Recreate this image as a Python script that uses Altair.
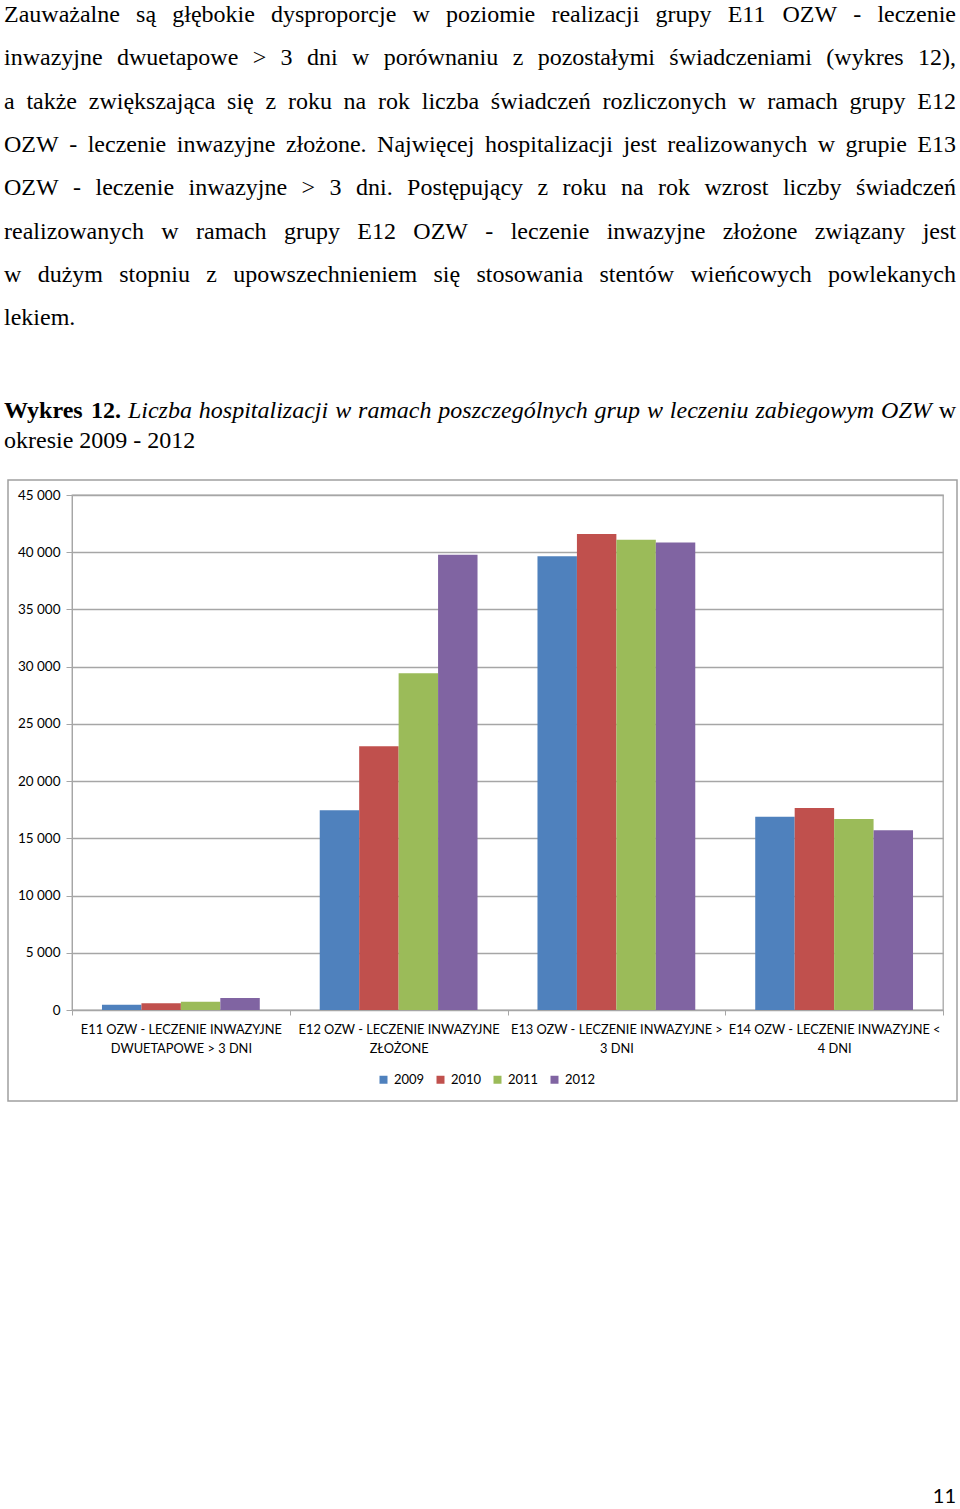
import altair as alt
import pandas as pd

# ---------------- data ----------------
categories = [
    "E11 OZW - LECZENIE INWAZYJNE\nDWUETAPOWE > 3 DNI",
    "E12 OZW - LECZENIE INWAZYJNE\nZŁOŻONE",
    "E13 OZW - LECZENIE INWAZYJNE >\n3 DNI",
    "E14 OZW - LECZENIE INWAZYJNE <\n4 DNI",
]
years = ["2009", "2010", "2011", "2012"]
v2009 = [450, 17450, 39650, 16880]
v2010 = [600, 23050, 41600, 17650]
v2011 = [720, 29430, 41100, 16690]
v2012 = [1050, 39780, 40850, 15700]
y_ticks = [0, 5000, 10000, 15000, 20000, 25000, 30000, 35000, 40000, 45000]
colors = ["#4F81BD", "#C0504D", "#9BBB59", "#8064A2"]

body_lines = [
    "Zauważalne są głębokie dysproporcje w poziomie realizacji grupy E11 OZW - leczenie",
    "inwazyjne dwuetapowe > 3 dni w porównaniu z pozostałymi świadczeniami (wykres 12),",
    "a także zwiększająca się z roku na rok liczba świadczeń rozliczonych w ramach grupy E12",
    "OZW - leczenie inwazyjne złożone. Najwięcej hospitalizacji jest realizowanych w grupie E13",
    "OZW - leczenie inwazyjne > 3 dni. Postępujący z roku na rok wzrost liczby świadczeń",
    "realizowanych w ramach grupy E12 OZW - leczenie inwazyjne złożone związany jest",
    "w dużym stopniu z upowszechnieniem się stosowania stentów wieńcowych powlekanych",
    "lekiem.",
]
caption_bold = "Wykres 12."
caption_italic = "Liczba hospitalizacji w ramach poszczególnych grup w leczeniu zabiegowym OZW"
caption_tail = "w"
caption_line2 = "okresie 2009 - 2012"
page_number = "11"

# ---------------- layout ----------------
PL, PT, PW, PH = 72, 495, 871, 515
TOTAL_W, TOTAL_H = 960, 1509
SERIF = "Liberation Serif, Times New Roman, serif"

ROMAN = dict(zip("abcdefghijklmnopqrstuvwxyz",
                 [444, 500, 444, 500, 444, 333, 500, 500, 278, 278, 500, 278, 778,
                  500, 500, 500, 500, 333, 389, 278, 500, 500, 722, 500, 500, 444]))
ROMAN.update(dict(zip("ABCDEFGHIJKLMNOPQRSTUVWXYZ",
                      [722, 667, 667, 722, 611, 556, 722, 722, 333, 389, 722, 611, 889,
                       722, 722, 556, 722, 667, 556, 611, 722, 722, 944, 722, 722, 611])))
ROMAN.update({d: 500 for d in "0123456789"})
ROMAN.update({".": 250, ",": 250, "-": 333, "(": 333, ")": 333, ">": 564, " ": 250,
              "ą": 444, "ę": 444, "ł": 278, "ż": 444, "ź": 444, "ó": 500, "ś": 389,
              "ć": 444, "ń": 500})
ITALIC = dict(zip("abcdefghijklmnopqrstuvwxyz",
                  [500, 500, 444, 500, 444, 278, 500, 500, 278, 278, 444, 278, 722,
                   500, 500, 500, 500, 389, 389, 278, 500, 444, 667, 444, 444, 389]))
ITALIC.update({"L": 556, "O": 722, "W": 833, "Z": 556, "ó": 500, " ": 250})
BOLD = {"W": 1000, "y": 500, "k": 556, "r": 444, "e": 444, "s": 389, "1": 500,
        "2": 500, ".": 250, " ": 250}
TABLES = {"r": ROMAN, "i": ITALIC, "b": BOLD}


def width(word, style, size):
    t = TABLES[style]
    return sum(t.get(c, 500) for c in word) / 1000.0 * size


def layout(tokens, size, left, right, baseline, justify, group):
    rows = []
    total = sum(width(w, s, size) for w, s in tokens)
    if justify and len(tokens) > 1:
        gap = (right - left - total) / (len(tokens) - 1)
    else:
        gap = 0.25 * size
    x = left
    for w, s in tokens:
        rows.append({"word": w, "x": x - PL, "y": baseline - PT, "style": s, "grp": group})
        x += width(w, s, size) + gap
    return rows


rows = []
for i, line in enumerate(body_lines):
    toks = [(w, "r") for w in line.split(" ")]
    rows += layout(toks, 24, 4, 956, 22 + 43.3 * i, i < len(body_lines) - 1, "body")
cap_toks = ([(w, "b") for w in caption_bold.split(" ")] +
            [(w, "i") for w in caption_italic.split(" ")] +
            [(w, "r") for w in caption_tail.split(" ")])
rows += layout(cap_toks, 24, 4, 956, 418, True, "cap")
rows += layout([(w, "r") for w in caption_line2.split(" ")], 24, 4, 956, 448, False, "cap")
words = pd.DataFrame(rows)

bars = pd.DataFrame(
    [{"cat": c, "year": y, "value": v}
     for y, vals in zip(years, [v2009, v2010, v2011, v2012])
     for c, v in zip(categories, vals)]
)

GRID = "#a6a6a6"
SANS = "Lato"

bar_layer = alt.Chart(bars).mark_bar().encode(
    x=alt.X("cat:N", sort=categories,
            scale=alt.Scale(paddingInner=0, paddingOuter=0),
            axis=alt.Axis(title=None, labelAngle=0, tickBand="extent", tickSize=5,
                          tickColor=GRID, domainColor=GRID, labelFont=SANS,
                          labelFontSize=12.8, labelColor="#000", labelLineHeight=19,
                          labelPadding=8, labelLimit=0, labelBaseline="top",
                          labelExpr="split(datum.label, '\\n')", grid=False)),
    xOffset=alt.XOffset("year:N", sort=years,
                        scale=alt.Scale(paddingInner=0, paddingOuter=0.76)),
    y=alt.Y("value:Q", scale=alt.Scale(domain=[0, 45000], nice=False),
            axis=alt.Axis(title=None, values=y_ticks, tickSize=6, tickColor=GRID,
                          domainColor=GRID, gridColor=GRID, gridWidth=1.3,
                          labelFont=SANS, labelFontSize=13.5, labelColor="#000",
                          labelPadding=6,
                          labelExpr="replace(format(datum.value, ','), ',', ' ')")),
    color=alt.Color("year:N", sort=years,
                    scale=alt.Scale(domain=years, range=colors),
                    legend=alt.Legend(title=None, orient="none", direction="horizontal",
                                      legendX=305, legendY=578, symbolType="square",
                                      symbolSize=64, symbolStrokeWidth=0,
                                      labelFont=SANS, labelFontSize=13,
                                      labelColor="#000", labelOffset=4,
                                      columnPadding=9)),
)

one = pd.DataFrame({"k": [0]})
frame = alt.Chart(one).mark_rect(fill="transparent", stroke="#a0a0a0", strokeWidth=1.5).encode(
    x=alt.value(8 - PL), x2=alt.value(957 - PL),
    y=alt.value(480 - PT), y2=alt.value(1101 - PT),
)


def text_layer(df, size, **kw):
    return alt.Chart(df).mark_text(align="left", baseline="alphabetic",
                                   font=SERIF, fontSize=size,
                                   color="#000", **kw).encode(
        x=alt.X("x:Q", scale=None, axis=None),
        y=alt.Y("y:Q", scale=None, axis=None),
        text="word:N",
    )


body_df = words[words.grp == "body"]
cap_df = words[words.grp == "cap"]
t_body = text_layer(body_df, 24)
t_cap_r = text_layer(cap_df[cap_df["style"] == "r"], 24)
t_cap_i = text_layer(cap_df[cap_df["style"] == "i"], 24, fontStyle="italic")
t_cap_b = text_layer(cap_df[cap_df["style"] == "b"], 24, fontWeight="bold")

pnum = alt.Chart(pd.DataFrame({"t": [page_number]})).mark_text(
    align="right", baseline="alphabetic", font=SANS, fontSize=20, color="#000"
).encode(x=alt.value(956 - PL), y=alt.value(1503 - PT), text="t:N")

chart = alt.layer(frame, bar_layer, t_body, t_cap_r, t_cap_i, t_cap_b, pnum).resolve_scale(
    x="independent", y="independent"
).properties(
    width=PW, height=PH,
    padding={"left": PL, "top": PT, "right": TOTAL_W - PL - PW, "bottom": TOTAL_H - PT - PH},
    autosize=alt.AutoSizeParams(type="none"),
    background="white",
).configure_view(stroke=GRID, strokeWidth=1.3)

chart.save("out.html", embed_options={"renderer": "svg", "actions": False})
